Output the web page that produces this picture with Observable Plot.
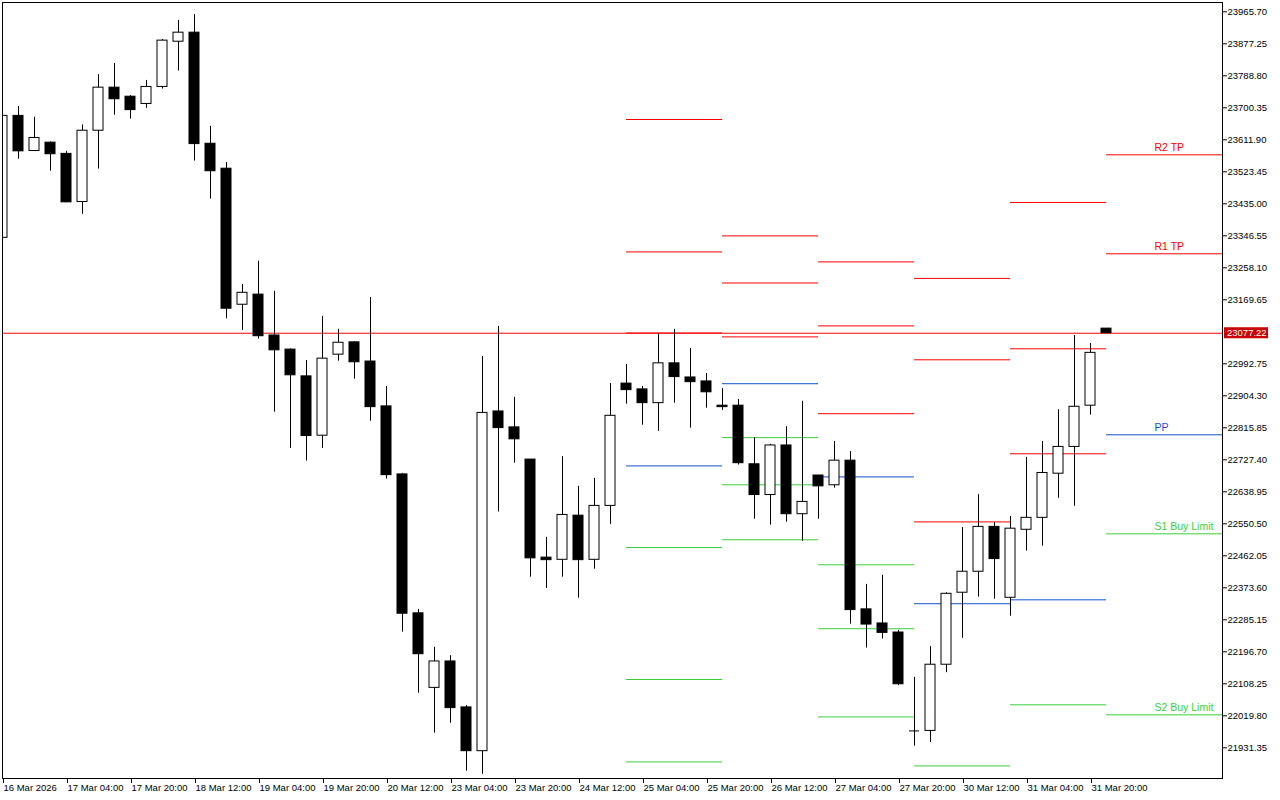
<!DOCTYPE html>
<html><head><meta charset="utf-8">
<script src="https://cdn.jsdelivr.net/npm/d3@7"></script>
<script src="https://cdn.jsdelivr.net/npm/@observablehq/plot@0.6"></script>
<style>
html,body{margin:0;padding:0;background:#fff;}
#chart svg{display:block;}
</style>
</head><body><div id="chart"></div>
<script>
// ---- OHLC data (H4 bars, bar 0 = 16 Mar 2026) ----
const open  = [23341,23678,23581,23604,23573,23440,23637,23756,23731,23711,23758,23883,23908,23601,23532,23156,23184,23071,23032,22958,22794,23018,23052,22999,22875,22687,22303,22097,22170,22043,21922,22861,22817,22728,22457,22451,22573,22451,22600,22938,22922,22884,22994,22955,22944,22877,22877,22715,22630,22767,22577,22684,22657,22725,22314,22275,22250,21978,21978,22161,22360,22418,22542,22346,22534,22567,22689,22763,22877,23090];
const high  = [23678,23704,23674,23606,23580,23653,23792,23823,23734,23776,23889,23942,23958,23649,23549,23212,23276,23193,23034,23002,23124,23088,23054,23176,22930,22690,22314,22209,22186,22048,23013,23096,22900,22728,22513,22736,22654,22676,22938,22991,22930,23076,23088,23035,22966,22924,22894,22789,22770,22819,22889,22684,22778,22750,22383,22408,22256,22126,22211,22360,22540,22631,22554,22571,22734,22778,22866,23071,23049,23090];
const low   = [23341,23558,23581,23525,23439,23406,23531,23680,23669,23699,23752,23802,23553,23448,23117,23085,23061,22859,22759,22724,22759,23000,22950,22834,22674,22251,22082,21972,21999,21867,21858,22583,22718,22403,22372,22403,22345,22425,22549,22881,22823,22806,22884,22815,22870,22864,22713,22563,22547,22555,22502,22563,22649,22273,22207,22232,22103,21936,21946,22139,22234,22348,22342,22295,22475,22489,22621,22599,22851,23077.22];
const close = [23678,23580,23617,23572,23439,23637,23756,23724,23694,23758,23886,23908,23600,23525,23145,23189,23069,23030,22961,22793,23007,23051,22997,22873,22685,22302,22190,22170,22041,21922,22857,22815,22784,22455,22450,22575,22450,22600,22849,22920,22884,22994,22956,22942,22914,22873,22718,22630,22767,22577,22611,22654,22725,22312,22272,22249,22107,21978,22161,22357,22418,22542,22453,22537,22567,22691,22763,22874,23023,23077.22];

// ---- Daily pivot levels ----
const pivotDay      = ["25 Mar","26 Mar","27 Mar","30 Mar","31 Mar","1 Apr"];
const pivotStartBar = [39,45,51,57,63,69];
const r3 = [23668.0,23346.3,23274.4,23228.8,23438.6,null];
const r2 = [23302.0,23216.1,23097.5,23003.8,23034.2,23570.4];
const r1 = [23077.9,23067.1,22854.8,22555.7,22744.0,23296.8];
const pp = [22710.5,22937.7,22680.1,22329.6,22340.4,22796.5];
const s1 = [22485.0,22788.8,22437.2,21881.3,22050.2,22522.8];
const s2 = [22120.1,22658.3,22260.5,null,null,22022.5];
const s3 = [21892.4,22506.3,22016.7,null,null,null];

// labels on the current day's levels
const labelLevels = ["r2","r1","pp","s1","s2"];
const labelTexts  = ["R2 TP","R1 TP","PP","S1 Buy Limit","S2 Buy Limit"];

// ---- axis ticks ----
const xTickLabels = ["16 Mar 2026","17 Mar 04:00","17 Mar 20:00","18 Mar 12:00","19 Mar 04:00","19 Mar 20:00","20 Mar 12:00","23 Mar 04:00","23 Mar 20:00","24 Mar 12:00","25 Mar 04:00","25 Mar 20:00","26 Mar 12:00","27 Mar 04:00","27 Mar 20:00","30 Mar 12:00","31 Mar 04:00","31 Mar 20:00"];
const xTickStep = 4;
const yTicks = [23965.70,23877.25,23788.80,23700.35,23611.90,23523.45,23435.00,23346.55,23258.10,23169.65,22992.75,22904.30,22815.85,22727.40,22638.95,22550.50,22462.05,22373.60,22285.15,22196.70,22108.25,22019.80,21931.35];

// ---- build tables ----
const RED = "#ff0000", BLUE = "#1452cc", GREEN = "#3ccf3c";
const bars = open.map((o, i) => ({i, open: o, high: high[i], low: low[i], close: close[i]}));
const xMax = 76.25;
const levelSets = {r3, r2, r1, pp, s1, s2, s3};
const levelColor = {r3: RED, r2: RED, r1: RED, pp: BLUE, s1: GREEN, s2: GREEN, s3: GREEN};
const pivotRows = [];
pivotDay.forEach((day, k) => {
  const start = pivotStartBar[k];
  const end = k + 1 < pivotStartBar.length ? pivotStartBar[k + 1] : xMax;
  for (const key of Object.keys(levelSets)) {
    const v = levelSets[key][k];
    if (v != null) pivotRows.push({day, key, start, end, price: v, color: levelColor[key]});
  }
});
const lastK = pivotDay.length - 1;
const labelRows = labelLevels.map((key, j) => ({
  text: labelTexts[j], price: levelSets[key][lastK], start: pivotStartBar[lastK], color: levelColor[key]
}));
const xTicks = xTickLabels.map((_, k) => k * xTickStep);
const lastClose = close[close.length - 1];
const bw = 0.3125;

const chart = Plot.plot({
  width: 1280, height: 800,
  marginLeft: 2, marginTop: 2, marginRight: 58, marginBottom: 22,
  style: {fontFamily: "Liberation Sans, Arial, sans-serif", fontSize: "9.5px", background: "#fff", color: "#000"},
  x: {domain: [0, xMax]},
  y: {domain: [21846.5, 23991.4]},
  color: {type: "identity"},
  marks: [
    Plot.ruleY(pivotRows, {y: "price", x1: "start", x2: "end", stroke: "color", strokeWidth: 1, clip: true}),
    Plot.ruleY([lastClose], {stroke: RED, strokeWidth: 1}),
    Plot.ruleX(bars, {x: "i", y1: "low", y2: "high", stroke: "#000", strokeWidth: 1, clip: true}),
    Plot.rect(bars, {x1: d => d.i - bw, x2: d => d.i + bw, y1: "open", y2: "close",
      fill: d => d.close > d.open ? "#fff" : "#000", stroke: "#000", strokeWidth: 1, clip: true}),
    Plot.ruleY(bars.filter(d => Math.abs(d.close - d.open) < 2), {y: "open", x1: d => d.i - bw, x2: d => d.i + bw, stroke: "#000", strokeWidth: 1, clip: true}),
    Plot.text(labelRows, {x: d => d.start + 3, y: "price", text: "text", fill: "color", textAnchor: "start", dy: -7, fontSize: 10.5}),
    Plot.frame({stroke: "#000"}),
    Plot.axisY({anchor: "right", ticks: yTicks, tickFormat: d => d.toFixed(2), tickSize: 4, tickPadding: 1, label: null, fontSize: 9.5}),
    Plot.axisX({anchor: "bottom", ticks: xTicks, tickFormat: d => xTickLabels[Math.round(d / xTickStep)], tickSize: 5, tickPadding: 1, textAnchor: "start", dx: 1, label: null, fontSize: 9.5})
  ]
});

// current price label on the price axis
const yy = chart.scale("y").apply(lastClose);
const g = d3.select(chart).append("g");
g.append("rect").attr("x", 1224).attr("y", yy - 5.5).attr("width", 44).attr("height", 11).attr("fill", "#c80000");
g.append("text").attr("x", 1227).attr("y", yy).attr("dy", "0.35em").attr("fill", "#fff")
  .attr("text-anchor", "start")
  .attr("font-size", 9.5).attr("font-family", "Liberation Sans, Arial, sans-serif").text(lastClose.toFixed(2));

document.getElementById("chart").appendChild(chart);
</script>
</body></html>
